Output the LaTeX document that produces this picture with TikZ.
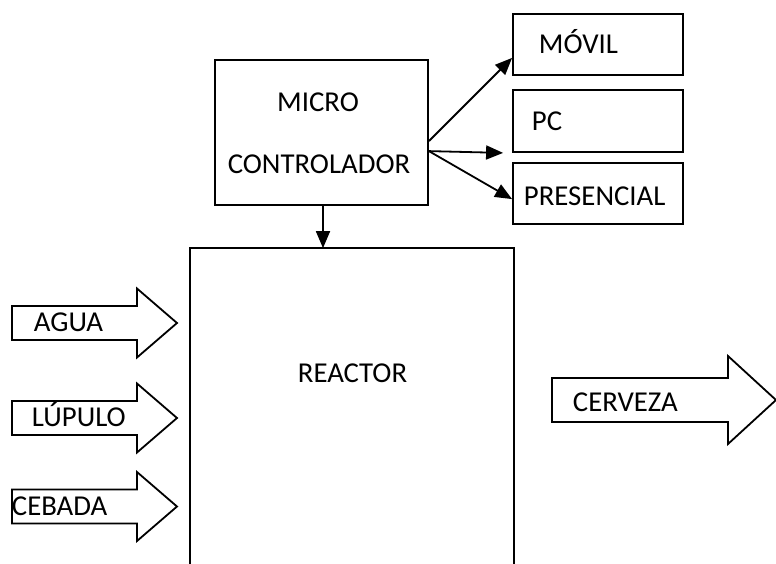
\documentclass[tikz,border=0pt]{standalone}
\usepackage{fontspec}
\setmainfont{Carlito}
\usetikzlibrary{arrows.meta,calc}
\begin{document}
\begin{tikzpicture}[x=1pt,y=-1pt, line width=1.8pt,
 box/.style={draw, rectangle, inner sep=0pt},
 lbl/.style={inner sep=0pt, font=\fontsize{28.8}{34}\selectfont},
 arr/.style={-{Triangle[length=17pt,width=14pt]}},
 barrow/.style={draw, line join=miter}]
\useasboundingbox (0,0) rectangle (776,563);
% boxes
\node[box, minimum width=213pt, minimum height=145pt] (micro) at (321.5,132.5) {};
\node[box, minimum width=170pt, minimum height=61pt] (movil) at (598,44.5) {};
\node[box, minimum width=170pt, minimum height=62pt] (pc) at (598,121) {};
\node[box, minimum width=170pt, minimum height=61pt] (pres) at (598,193.5) {};
\node[rectangle, inner sep=0pt, minimum width=322pt, minimum height=314pt] (reactor) at (352,406) {};
\draw (reactor.south west) -- (reactor.north west) -- (reactor.north east) -- (reactor.south east);
% labels
\node[lbl, anchor=base] (tmicro) at (318,111) {MICRO};
\node[lbl, anchor=base] (tcontrol) at (319,173) {CONTROLADOR};
\node[lbl, anchor=base west] (tmovil) at (538,53) {MÓVIL};
\node[lbl, anchor=base west] (tpc) at (531,130) {PC};
\node[lbl, anchor=base west] (tpres) at (523,205) {PRESENCIAL};
\node[lbl, anchor=base] (treactor) at (352.5,382) {REACTOR};
% connectors
\coordinate (o1) at ($(micro.north east)+(0,82)$);
\coordinate (o2) at ($(micro.north east)+(0,92)$);
\draw[arr] (o1) -- ($(movil.south west)+(0,-18)$);
\draw[arr] (o2) -- ($(pc.south west)+(-9,0)$);
\draw[arr] (o2) -- ($(pres.north west)+(0,37)$);
\coordinate (ds) at ($(micro.south)+(1.5,0)$);
\draw[arr] (ds) -- (ds |- reactor.north);
% block arrows (inputs)
\foreach \cy/\txt/\nm/\tx in {323/AGUA/agua/33, 418/LÚPULO/lupulo/31, 506.5/CEBADA/cebada/11}{
  \draw[barrow] (12,\cy-17) -- (137,\cy-17) -- (137,\cy-34.5) -- (177,\cy) -- (137,\cy+34.5) -- (137,\cy+17) -- (12,\cy+17) -- cycle;
  \node[lbl, anchor=base west] (\nm) at (\tx,\cy+8.8) {\txt};
}
% output block arrow
\draw[barrow] (552,378) -- (728,378) -- (728,356) -- (776,400) -- (728,444) -- (728,422) -- (552,422) -- cycle;
\node[lbl, anchor=base west] (cerveza) at (572,411) {CERVEZA};
\end{tikzpicture}
\end{document}
